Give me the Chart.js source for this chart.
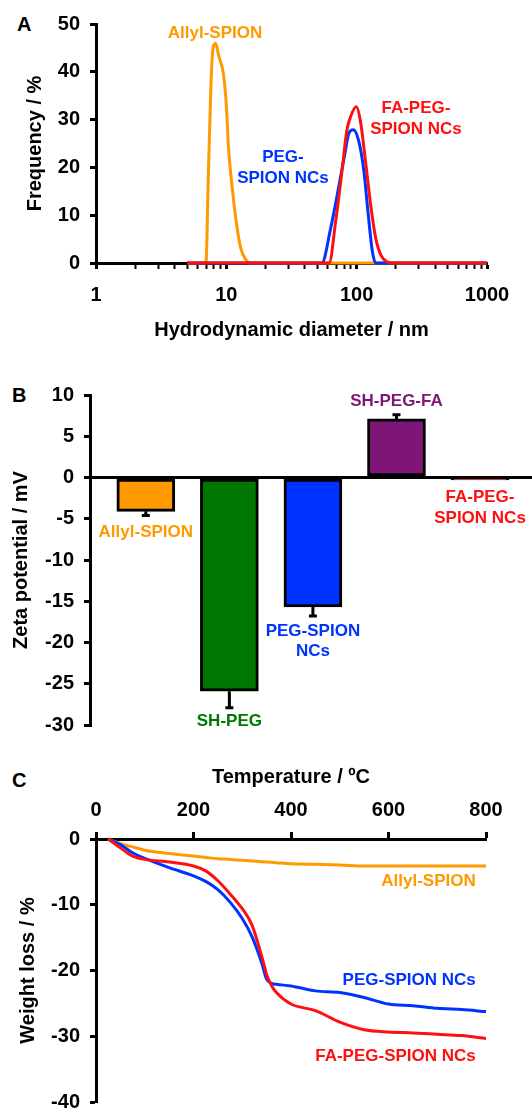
<!DOCTYPE html>
<html>
<head>
<meta charset="utf-8">
<script src="https://cdn.jsdelivr.net/npm/chart.js@4.4.1/dist/chart.umd.min.js"></script>
<style>
  html, body { margin: 0; padding: 0; background: #fff; width: 532px; height: 1109px; overflow: hidden; }
  canvas { position: absolute; left: 0; }
  .panel { position: absolute; font: bold 20px "Liberation Sans", Arial, sans-serif; line-height: 20px; color: #000; }
</style>
</head>
<body>
<div class="panel" style="left:17px;top:14px">A</div>
<div class="panel" style="left:12px;top:385px">B</div>
<div class="panel" style="left:12px;top:770px">C</div>
<canvas id="dlsChart" width="532" height="345" style="top:0"></canvas>
<canvas id="zetaChart" width="532" height="405" style="top:345px"></canvas>
<canvas id="tgaChart" width="532" height="380" style="top:750px"></canvas>
<script>
// --- A: DLS size distribution (hydrodynamic diameter in nm, frequency in %)
const allylSize = [5, 6.97, 7.26, 7.62, 7.95, 8.29, 8.71, 9.53, 10, 10.4, 11.1, 12.0, 12.9, 14.1, 15.2, 1000];
const allylFreq = [0, 0, 17.1, 37.3, 45.3, 45.9, 43.5, 39.3, 33.0, 24.0, 15.7, 8.0, 3.1, 0.7, 0, 0];
const pegSize = [5, 54, 63.2, 80, 87.3, 94.3, 104, 113.8, 122, 132, 140, 1000];
const pegFreq = [0, 0, 7.3, 21.9, 27.2, 27.9, 25.4, 19.1, 10.8, 2.4, 0, 0];
const faSize = [5, 61.4, 69, 77.6, 83.8, 87.3, 99.4, 107, 117, 128, 140, 153, 172, 188, 1000];
const faFreq = [0, 0, 8.7, 19.8, 27.5, 29.6, 32.7, 29.6, 21.2, 12.2, 5.2, 1.7, 0.2, 0, 0];
const sizeDecades = [1, 10, 100, 1000];

// --- B: zeta potential (mV)
const zetaSamples = ['Allyl-SPION', 'SH-PEG', 'PEG-SPION NCs', 'SH-PEG-FA', 'FA-PEG-SPION NCs'];
const zetaValues = [-4.1, -25.9, -15.7, 7.1, -0.3];
const zetaErrors = [0.5, 2.0, 1.1, 0.5, 0];

// --- C: TGA weight loss (%) vs temperature (ºC)
const tgaTemp = [25, 50, 75, 100, 150, 200, 225, 250, 275, 300, 320, 340, 350, 360, 370, 400, 450, 500, 550, 600, 650, 700, 750, 800];
const tgaAllyl = [0, -0.7, -1.2, -1.7, -2.2, -2.6, -2.8, -3.0, -3.1, -3.25, -3.35, -3.45, -3.5, -3.55, -3.6, -3.75, -3.85, -3.95, -4.1, -4.1, -4.1, -4.1, -4.1, -4.1];
const tgaPeg = [0, -0.85, -2.1, -2.95, -4.35, -5.6, -6.45, -7.7, -9.6, -12.1, -14.85, -18.85, -21.3, -21.95, -22.1, -22.35, -23.1, -23.35, -24.1, -25.1, -25.35, -25.75, -25.95, -26.25];
const tgaFa = [0, -1.35, -2.6, -3.1, -3.5, -4.1, -4.85, -6.35, -8.35, -10.6, -13.1, -17.85, -20.6, -22.3, -23.35, -25.1, -26.1, -27.85, -29.0, -29.35, -29.5, -29.7, -29.9, -30.35];

const ORANGE = '#FF9900';
const BLUE = '#0033FF';
const RED = '#FF1010';
const GREEN = '#007700';
const PURPLE = '#7F1677';
const FONT = '"Liberation Sans", Arial, sans-serif';
const axisFont = { family: FONT, size: 20, weight: 'bold' };

/**
 * Draws free text labels at data coordinates
 */
const textLabelPlugin = {
    id: 'textLabels',
    afterDatasetsDraw(chart, args, opts) {
        const { ctx, scales } = chart;
        ctx.save();
        ctx.font = 'bold 17px ' + FONT;
        ctx.textBaseline = 'middle';
        (opts.items || []).forEach(item => {
            ctx.fillStyle = item.color;
            ctx.textAlign = item.align || 'center';
            ctx.fillText(item.text, scales.x.getPixelForValue(item.x), scales.y.getPixelForValue(item.y));
        });
        ctx.restore();
    }
};

/**
 * Error bars for the zeta chart, pointing away from zero
 */
const errorBarPlugin = {
    id: 'errorBars',
    afterDatasetsDraw(chart) {
        const { ctx } = chart;
        const yScale = chart.scales.y;
        const meta = chart.getDatasetMeta(0);
        ctx.save();
        ctx.strokeStyle = '#000';
        ctx.lineWidth = 3;
        meta.data.forEach((bar, i) => {
            const v = zetaValues[i];
            const e = zetaErrors[i];
            if (!e) return;
            const end = yScale.getPixelForValue(v + Math.sign(v) * e);
            ctx.beginPath();
            ctx.moveTo(bar.x, bar.y);
            ctx.lineTo(bar.x, end);
            ctx.moveTo(bar.x - 4, end);
            ctx.lineTo(bar.x + 4, end);
            ctx.stroke();
        });
        ctx.restore();
    }
};

const fixWidth = w => scale => { scale.width = w; };
const fixHeight = h => scale => { scale.height = h; };

function lineSet(xs, ys, color) {
    return {
        data: xs.map((x, i) => ({ x, y: ys[i] })),
        borderColor: color,
        backgroundColor: color,
        borderWidth: 3,
        showLine: true,
        pointRadius: 0,
        cubicInterpolationMode: 'monotone',
        clip: false
    };
}

function axisBase(extra) {
    return Object.assign({
        border: { display: true, color: '#000', width: 3 },
        grid: { drawOnChartArea: false, tickLength: 6, tickColor: '#000', tickWidth: 3 },
        ticks: { font: axisFont, color: '#000', padding: 10, autoSkip: false, maxRotation: 0 }
    }, extra);
}

const common = {
    responsive: false,
    devicePixelRatio: 1,
    animation: false,
    events: [],
    plugins: { legend: { display: false }, tooltip: { enabled: false } }
};

const isDecade = v => sizeDecades.includes(v);

// A
new Chart(document.getElementById('dlsChart'), {
    type: 'scatter',
    data: {
        datasets: [
            lineSet(faSize, faFreq, RED),
            lineSet(pegSize, pegFreq, BLUE),
            lineSet(allylSize, allylFreq, ORANGE)
        ]
    },
    options: {
        ...common,
        layout: { padding: { top: 24, right: 45, bottom: 0, left: 0 } },
        plugins: {
            ...common.plugins,
            textLabels: {
                items: [
                    { text: 'Allyl-SPION', x: 8.18, y: 48.0, color: ORANGE },
                    { text: 'PEG-', x: 27.2, y: 22.2, color: BLUE },
                    { text: 'SPION NCs', x: 27.2, y: 17.8, color: BLUE },
                    { text: 'FA-PEG-', x: 285, y: 32.4, color: RED },
                    { text: 'SPION NCs', x: 285, y: 28.0, color: RED }
                ]
            }
        },
        scales: {
            x: axisBase({
                type: 'logarithmic',
                min: 1,
                max: 1000,
                afterBuildTicks: scale => {
                    const vals = [];
                    sizeDecades.slice(0, -1).forEach(d => {
                        for (let k = 1; k < 10; k++) vals.push(d * k);
                    });
                    vals.push(1000);
                    scale.ticks = vals.map(v => ({ value: v }));
                },
                afterFit: fixHeight(82),
                grid: {
                    drawOnChartArea: false,
                    tickLength: 6,
                    tickColor: '#000',
                    tickWidth: c => (c.tick && isDecade(c.tick.value) ? 3 : 2)
                },
                ticks: {
                    font: axisFont, color: '#000', padding: 14, autoSkip: false, maxRotation: 0,
                    callback: v => (isDecade(v) ? String(v) : '')
                },
                title: { display: true, text: 'Hydrodynamic diameter / nm', font: axisFont, color: '#000', padding: { top: 0, bottom: 3 } }
            }),
            y: axisBase({
                min: 0,
                max: 50,
                afterFit: fixWidth(96),
                ticks: { font: axisFont, color: '#000', padding: 10, stepSize: 10 },
                title: { display: true, text: 'Frequency / %', font: axisFont, color: '#000', padding: { top: 23, bottom: 0 } }
            })
        }
    },
    plugins: [textLabelPlugin]
});

// B
new Chart(document.getElementById('zetaChart'), {
    type: 'bar',
    data: {
        labels: zetaSamples,
        datasets: [{
            data: zetaValues.map((v, i) => ({ x: i + 1, y: v })),
            backgroundColor: [ORANGE, GREEN, BLUE, PURPLE, RED],
            borderColor: '#000',
            borderWidth: 3,
            borderSkipped: false,
            barThickness: 58
        }]
    },
    options: {
        ...common,
        layout: { padding: { top: 50, right: 0, bottom: 25, left: 0 } },
        plugins: {
            ...common.plugins,
            textLabels: {
                items: [
                    { text: 'Allyl-SPION', x: 1, y: -6.6, color: ORANGE },
                    { text: 'SH-PEG', x: 2, y: -29.5, color: GREEN },
                    { text: 'PEG-SPION', x: 3, y: -18.7, color: BLUE },
                    { text: 'NCs', x: 3, y: -21.1, color: BLUE },
                    { text: 'SH-PEG-FA', x: 4, y: 9.2, color: PURPLE },
                    { text: 'FA-PEG-', x: 5, y: -2.4, color: RED },
                    { text: 'SPION NCs', x: 5, y: -4.9, color: RED }
                ]
            }
        },
        scales: {
            x: { type: 'linear', display: false, offset: false, grid: { offset: false }, min: 0.332, max: 5.622 },
            y: axisBase({
                min: -30,
                max: 10,
                afterFit: fixWidth(90),
                grid: {
                    drawOnChartArea: true,
                    color: c => (c.tick && c.tick.value === 0 ? '#000' : 'rgba(0,0,0,0)'),
                    lineWidth: 3,
                    tickLength: 6,
                    tickColor: '#000',
                    tickWidth: 3
                },
                ticks: { font: axisFont, color: '#000', padding: 10, stepSize: 5 },
                title: { display: true, text: 'Zeta potential / mV', font: axisFont, color: '#000', padding: { top: 9, bottom: 0 } }
            })
        }
    },
    plugins: [errorBarPlugin, textLabelPlugin]
});

// C
new Chart(document.getElementById('tgaChart'), {
    type: 'scatter',
    data: {
        datasets: [
            lineSet(tgaTemp, tgaFa, RED),
            lineSet(tgaTemp, tgaPeg, BLUE),
            lineSet(tgaTemp, tgaAllyl, ORANGE)
        ]
    },
    options: {
        ...common,
        layout: { padding: { top: 0, right: 46, bottom: 28, left: 0 } },
        plugins: {
            ...common.plugins,
            textLabels: {
                items: [
                    { text: 'Allyl-SPION', x: 779, y: -6.5, color: ORANGE, align: 'right' },
                    { text: 'PEG-SPION NCs', x: 779, y: -21.5, color: BLUE, align: 'right' },
                    { text: 'FA-PEG-SPION NCs', x: 779, y: -33.0, color: RED, align: 'right' }
                ]
            }
        },
        scales: {
            x: axisBase({
                position: 'top',
                min: 0,
                max: 800,
                afterFit: fixHeight(89),
                grid: { drawOnChartArea: false, tickLength: 7, tickColor: '#000', tickWidth: 3 },
                ticks: { font: axisFont, color: '#000', padding: 10, stepSize: 200, maxRotation: 0 },
                title: { display: true, text: 'Temperature / ºC', font: axisFont, color: '#000', padding: { top: 15, bottom: 0 } }
            }),
            y: axisBase({
                min: -40,
                max: 0,
                afterFit: fixWidth(96),
                ticks: { font: axisFont, color: '#000', padding: 10, stepSize: 10 },
                title: { display: true, text: 'Weight loss / %', font: axisFont, color: '#000', padding: { top: 16, bottom: 0 } }
            })
        }
    },
    plugins: [textLabelPlugin]
});
</script>
</body>
</html>
